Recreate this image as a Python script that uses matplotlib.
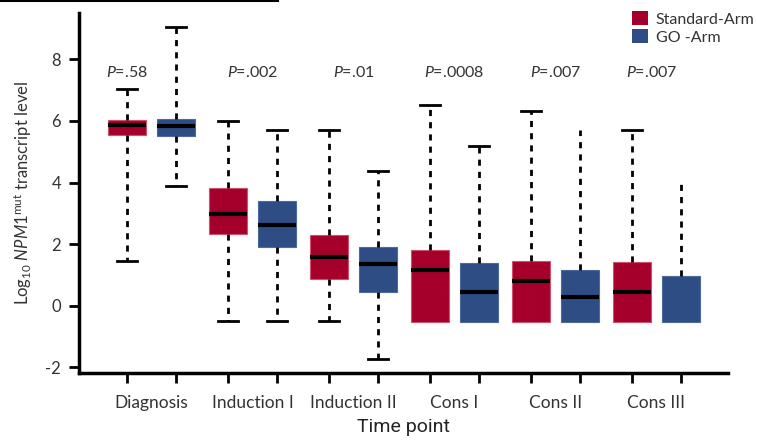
import numpy as np
import matplotlib
matplotlib.use("Agg")
import matplotlib.pyplot as plt
from matplotlib.patches import Patch
from matplotlib.lines import Line2D

plt.rcParams['font.family'] = ['Lato', 'DejaVu Sans']
plt.rcParams['axes.unicode_minus'] = False
plt.rcParams['mathtext.fontset'] = 'custom'
plt.rcParams['mathtext.rm'] = 'Lato'
plt.rcParams['mathtext.it'] = 'Lato:italic'

# data
timepoints = ['Diagnosis', 'Induction I', 'Induction II', 'Cons I', 'Cons II', 'Cons III']
p_values = ['.58', '.002', '.01', '.0008', '.007', '.007']
p_offset = [0.0, 0.5, 0.5, 0.5, 0.5, 0.4]

std_low = [1.47, -0.49, -0.49, -0.51, -0.51, -0.51]
std_q1 = [5.55, 2.32, 0.87, -0.51, -0.51, -0.51]
std_med = [5.85, 2.97, 1.57, 1.17, 0.79, 0.46]
std_q3 = [6.02, 3.82, 2.31, 1.82, 1.46, 1.41]
std_high = [7.05, 6.00, 5.69, 6.52, 6.33, 5.69]

go_low = [3.89, -0.49, -1.71, -0.51, -0.51, -0.51]
go_q1 = [5.50, 1.92, 0.46, -0.51, -0.51, -0.51]
go_med = [5.82, 2.61, 1.37, 0.46, 0.28, -0.51]
go_q3 = [6.07, 3.39, 1.91, 1.39, 1.15, 0.98]
go_high = [9.06, 5.69, 4.37, 5.17, 5.71, 4.09]
go_cap = [True, True, True, True, False, False]

red = '#a5002c'
blue = '#2e4d85'

base = np.arange(len(timepoints)) * 2.06
pos_std = base
pos_go = base + 1

fig = plt.figure(figsize=(7.57, 4.42), dpi=100)
ax = fig.add_axes([0.1044, 0.1561, 0.8573, 0.8145])


def stats(lo, q1, med, q3, hi):
    return [{'whislo': a, 'q1': b, 'med': c, 'q3': d, 'whishi': e, 'fliers': []}
            for a, b, c, d, e in zip(lo, q1, med, q3, hi)]


common = dict(widths=0.76, patch_artist=True, showfliers=False,
              medianprops=dict(color='black', lw=3, solid_capstyle='butt'),
              whiskerprops=dict(color='black', lw=2, linestyle=(0, (2.2, 2.2))),
              capprops=dict(color='black', lw=2), capwidths=0.42)

b1 = ax.bxp(stats(std_low, std_q1, std_med, std_q3, std_high), positions=pos_std,
            boxprops=dict(facecolor=red, edgecolor='#d0506a', lw=0.8), **common)
b2 = ax.bxp(stats(go_low, go_q1, go_med, go_q3, go_high), positions=pos_go,
            boxprops=dict(facecolor=blue, edgecolor='#4a6aa0', lw=0.8), **common)

# hide bottom caps where the whisker doesn't leave the box
for i in range(len(timepoints)):
    for caps, lo, q1 in ((b1['caps'], std_low, std_q1), (b2['caps'], go_low, go_q1)):
        if lo[i] >= q1[i]:
            caps[2 * i].set_visible(False)
    if not go_cap[i]:
        b2['caps'][2 * i + 1].set_visible(False)
for i, m in enumerate(b2['medians']):
    if go_med[i] <= go_q1[i]:
        m.set_visible(False)

for i, p in enumerate(p_values):
    ax.text(base[i] + p_offset[i], 7.56, r'$\mathit{P}$=' + p, ha='center', va='center',
            fontsize=11.5, color='#333333')

ax.set_xlim(-0.98, pos_go[-1] + 0.96)
ax.set_ylim(-2.18, 9.5)
ax.set_yticks([-2, 0, 2, 4, 6, 8])
ax.set_xticks(np.concatenate([pos_std, pos_go]))
ax.set_xticklabels([])
ax.set_xticks(base + 0.5, minor=True)
ax.set_xticklabels(timepoints, minor=True, fontsize=12.5, color='#333333')
ax.tick_params(axis='x', which='minor', length=0, pad=16)
ax.tick_params(axis='both', which='major', length=7, width=2, direction='out')
ax.tick_params(axis='y', labelsize=12, labelcolor='#333333', pad=6)

for s in ['top', 'right']:
    ax.spines[s].set_visible(False)
for s in ['left', 'bottom']:
    ax.spines[s].set_linewidth(2.5)

ax.set_ylabel(r'Log$_{10}$ $\mathit{NPM1}^{\mathrm{mut}}$ transcript level', fontsize=12,
              color='#333333', labelpad=8)
ax.set_xlabel('Time point', fontsize=14, color='#222222',
              family=['Roboto', 'DejaVu Sans'], labelpad=5)

handles = [Patch(facecolor=red, edgecolor='none', label='Standard-Arm'),
           Patch(facecolor=blue, edgecolor='none', label='GO -Arm')]
fig.legend(handles=handles, loc='upper left', bbox_to_anchor=(0.829, 0.985), frameon=False,
           fontsize=11.5, handlelength=0.95, handleheight=0.95, handletextpad=0.5,
           labelspacing=0.15, borderaxespad=0, borderpad=0.3, labelcolor='#333333')

fig.add_artist(Line2D([0, 0.367], [0.997, 0.997], transform=fig.transFigure,
                      color='black', lw=1.5))

fig.savefig('out.png', dpi=100)
